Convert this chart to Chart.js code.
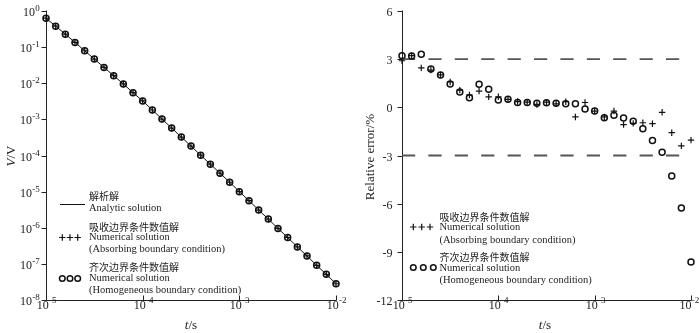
<!DOCTYPE html>
<html><head><meta charset="utf-8">
<script src="https://cdn.jsdelivr.net/npm/chart.js@4"></script>
<style>
html,body{margin:0;padding:0;background:#fff;width:700px;height:333px;overflow:hidden}
.box{position:absolute;top:0;width:350px;height:333px}
</style></head><body>
<div class="box" style="left:0"><canvas id="c1" width="350" height="333"></canvas></div>
<div class="box" style="left:350px"><canvas id="c2" width="350" height="333"></canvas></div>
<script>
// ---------- data ----------
const times = [1.000e-5,1.259e-5,1.585e-5,1.995e-5,2.512e-5,3.162e-5,3.981e-5,5.012e-5,6.310e-5,7.943e-5,
  1.000e-4,1.259e-4,1.585e-4,1.995e-4,2.512e-4,3.162e-4,3.981e-4,5.012e-4,6.310e-4,7.943e-4,
  1.000e-3,1.259e-3,1.585e-3,1.995e-3,2.512e-3,3.162e-3,3.981e-3,5.012e-3,6.310e-3,7.943e-3,1.000e-2];
const analyticV = [0.631,0.380,0.229,0.135,0.0794,0.0468,0.0275,0.0162,0.00955,0.00550,
  0.00324,0.00182,0.00102,5.75e-4,3.24e-4,1.82e-4,1.02e-4,5.75e-5,3.24e-5,1.82e-5,
  1.00e-5,5.62e-6,3.09e-6,1.74e-6,9.55e-7,5.37e-7,2.95e-7,1.66e-7,9.12e-8,5.13e-8,2.82e-8];
const absorbingV = [0.631,0.380,0.229,0.135,0.0794,0.0468,0.0275,0.0162,0.00955,0.00550,
  0.00324,0.00182,0.00102,5.75e-4,3.24e-4,1.82e-4,1.02e-4,5.75e-5,3.24e-5,1.82e-5,
  1.00e-5,5.62e-6,3.09e-6,1.74e-6,9.55e-7,5.37e-7,2.95e-7,1.66e-7,9.12e-8,5.13e-8,2.82e-8];
const homogeneousV = [0.631,0.380,0.229,0.135,0.0794,0.0468,0.0275,0.0162,0.00955,0.00550,
  0.00324,0.00182,0.00102,5.75e-4,3.24e-4,1.82e-4,1.02e-4,5.75e-5,3.24e-5,1.82e-5,
  1.00e-5,5.62e-6,3.09e-6,1.74e-6,9.55e-7,5.37e-7,2.95e-7,1.66e-7,9.12e-8,5.13e-8,2.82e-8];
const homogeneousErr = [3.21,3.19,3.31,2.38,2.02,1.45,0.95,0.60,1.44,1.13,
  0.46,0.50,0.30,0.30,0.25,0.28,0.25,0.22,0.23,-0.10,
  -0.23,-0.65,-0.49,-0.66,-0.87,-1.33,-2.06,-2.80,-4.27,-6.27,-9.63];
const absorbingErr = [2.90,3.22,2.46,2.32,2.02,1.58,1.07,0.77,1.01,0.65,
  0.66,0.50,0.36,0.32,0.18,0.32,0.22,0.35,-0.60,0.30,
  -0.23,-0.60,-0.23,-1.08,-1.00,-0.96,-1.02,-0.31,-1.58,-2.40,-2.04];
const errorLimits = [3,-3];
const xTickExps = [-5,-4,-3,-2];
const leftYTickExps = [0,-1,-2,-3,-4,-5,-6,-7,-8];
const rightYTicks = [6,3,0,-3,-6,-9,-12];

// ---------- helpers ----------
const SERIF = '"Liberation Serif","Times New Roman",serif';
const CJK = '"Noto Sans CJK SC",sans-serif';
const INK = '#222';
function pts(xs, ys){ return xs.map((x,i)=>({x:x,y:ys[i]})); }
function drawPow(ctx, x, y, exp, align){
  ctx.save();
  ctx.fillStyle = INK; ctx.textBaseline = 'middle'; ctx.textAlign = 'left';
  const base = '10', e = String(exp);
  ctx.font = '12px '+SERIF; const w1 = ctx.measureText(base).width;
  ctx.font = '9px '+SERIF; const w2 = ctx.measureText(e).width;
  const w = w1 + w2;
  let sx = align === 'right' ? x - w : x - w/2;
  sx = Math.min(sx, ctx.canvas.width - w - 1);
  ctx.font = '12px '+SERIF; ctx.fillText(base, sx, y + 1.5);
  ctx.font = '9px '+SERIF; ctx.fillText(e, sx + w1 + 0.3, y - 3);
  ctx.restore();
}
function text(ctx, s, x, y, font, align){
  ctx.save(); ctx.fillStyle = INK; ctx.font = font; ctx.textAlign = align || 'left';
  ctx.textBaseline = 'middle'; ctx.fillText(s, x, y); ctx.restore();
}
function plus(ctx, x, y, r){
  ctx.beginPath(); ctx.moveTo(x-r, y); ctx.lineTo(x+r, y); ctx.moveTo(x, y-r); ctx.lineTo(x, y+r);
  ctx.stroke();
}
function circ(ctx, x, y, r){ ctx.beginPath(); ctx.arc(x, y, r, 0, Math.PI*2); ctx.stroke(); }

function axesPlugin(opts){
  return {
    id: 'axesDraw'+opts.id,
    beforeDatasetsDraw(chart){
      const ctx = chart.ctx, a = chart.chartArea, xs = chart.scales.x, ys = chart.scales.y;
      ctx.save();
      ctx.strokeStyle = INK; ctx.lineWidth = 1;
      const L = Math.round(a.left)+0.5, B = Math.round(a.bottom)+0.5;
      ctx.beginPath(); ctx.moveTo(L, a.top-0.5); ctx.lineTo(L, B); ctx.lineTo(a.right+0.5, B); ctx.stroke();
      xTickExps.forEach(e=>{
        const px = Math.round(xs.getPixelForValue(Math.pow(10,e)))+0.5;
        ctx.beginPath(); ctx.moveTo(px, B); ctx.lineTo(px, B-5); ctx.stroke();
        drawPow(ctx, px, 304, e, 'center');
      });
      opts.yTicks.forEach(v=>{
        const py = Math.round(ys.getPixelForValue(opts.yLog ? Math.pow(10,v) : v))+0.5;
        ctx.beginPath(); ctx.moveTo(L-5, py); ctx.lineTo(L, py); ctx.stroke();
        if (opts.yLog) drawPow(ctx, L - opts.labelGap, py, v, 'right');
        else text(ctx, String(v), L - opts.labelGap, py+1, '12px '+SERIF, 'right');
      });
      ctx.restore();
    },
    afterDraw(chart){
      const ctx = chart.ctx;
      ctx.save();
      ctx.fillStyle = INK; ctx.textBaseline = 'middle';
      ctx.font = 'italic 13px '+SERIF; const wt = ctx.measureText('t').width;
      ctx.font = '13px '+SERIF; const ws = ctx.measureText('/s').width;
      let sx = opts.xTitleX - (wt+ws)/2;
      ctx.textAlign = 'left';
      ctx.font = 'italic 13px '+SERIF; ctx.fillText('t', sx, 326);
      ctx.font = '13px '+SERIF; ctx.fillText('/s', sx+wt, 326);
      ctx.translate(opts.yTitleX, opts.yTitleY); ctx.rotate(-Math.PI/2);
      if (opts.yLog){
        ctx.font = 'italic 13px '+SERIF; const wv = ctx.measureText('V').width;
        ctx.font = '13px '+SERIF; const wr = ctx.measureText('/V').width;
        const s0 = -(wv+wr)/2;
        ctx.font = 'italic 13px '+SERIF; ctx.fillText('V', s0, 0);
        ctx.font = '13px '+SERIF; ctx.fillText('/V', s0+wv, 0);
      } else {
        ctx.font = '13px '+SERIF; ctx.textAlign = 'center'; ctx.fillText('Relative error/%', 0, 0);
      }
      ctx.restore();
      ctx.save();
      ctx.strokeStyle = '#111'; ctx.fillStyle = INK;
      const f = '10.5px '+SERIF, fc = '10px '+CJK;
      opts.legend(ctx, f, fc);
      ctx.restore();
    }
  };
}

const baseOpts = (yCfg, yWidth, rightPad) => ({
  responsive:false, animation:false, devicePixelRatio:1,
  layout:{padding:{top:11,right:rightPad,left:0,bottom:0}},
  plugins:{legend:{display:false}, tooltip:{enabled:false}},
  scales:{
    x:Object.assign({type:'logarithmic', min:1e-5, max:1e-2, ticks:{display:false}, grid:{display:false}, border:{display:false}}, {afterFit(s){s.height=33;}}),
    y:Object.assign(yCfg, {ticks:{display:false}, grid:{display:false}, border:{display:false}, afterFit(s){s.width=yWidth;}})
  }
});

// ---------- left chart ----------
new Chart(document.getElementById('c1'), {
  type:'line',
  data:{datasets:[
    {label:'解析解', data:pts(times, analyticV), borderColor:'#111', borderWidth:1, pointRadius:0, clip:false, order:3},
    {label:'吸收边界条件数值解', data:pts(times, absorbingV), showLine:false, pointStyle:'cross', pointRadius:3.2, borderWidth:1.2, borderColor:'#111', clip:false, order:2},
    {label:'齐次边界条件数值解', data:pts(times, homogeneousV), showLine:false, pointStyle:'circle', pointRadius:3, borderWidth:1.5, borderColor:'#111', backgroundColor:'rgba(0,0,0,0)', clip:false, order:1}
  ]},
  options: baseOpts({type:'logarithmic', min:1e-8, max:1}, 46, 14),
  plugins:[axesPlugin({id:1, yLog:true, yTicks:leftYTickExps, labelGap:7, xTitleX:191, yTitleX:12, yTitleY:156,
    legend(ctx, f, fc){
      ctx.lineWidth = 1;
      ctx.beginPath(); ctx.moveTo(60, 204.5); ctx.lineTo(85, 204.5); ctx.stroke();
      text(ctx, '解析解', 89, 196, fc);
      text(ctx, 'Analytic solution', 89, 208.5, f);
      text(ctx, '吸收边界条件数值解', 89, 227, fc);
      ctx.lineWidth = 1.2; [62.3,70,77.7].forEach(x=>plus(ctx, x, 237.5, 3.2));
      text(ctx, 'Numerical solution', 89, 237.5, f);
      text(ctx, '(Absorbing boundary condition)', 89, 249.5, f);
      text(ctx, '齐次边界条件数值解', 89, 267.5, fc);
      ctx.lineWidth = 1.5; [62.3,70,77.7].forEach(x=>circ(ctx, x, 278.5, 2.8));
      text(ctx, 'Numerical solution', 89, 278.5, f);
      text(ctx, '(Homogeneous boundary condition)', 89, 290.5, f);
    }})]
});

// ---------- right chart ----------
new Chart(document.getElementById('c2'), {
  type:'line',
  data:{datasets:[
    {label:'+3%', data:pts([1e-5,1e-2],[errorLimits[0],errorLimits[0]]), borderColor:'#555', borderWidth:1.8, borderDash:[13.2,13.2], pointRadius:0, clip:false, order:4},
    {label:'-3%', data:pts([1e-5,1e-2],[errorLimits[1],errorLimits[1]]), borderColor:'#555', borderWidth:1.8, borderDash:[13.2,13.2], pointRadius:0, clip:false, order:3},
    {label:'吸收边界条件数值解', data:pts(times, absorbingErr), showLine:false, pointStyle:'cross', pointRadius:3.2, borderWidth:1.2, borderColor:'#111', clip:false, order:2},
    {label:'齐次边界条件数值解', data:pts(times, homogeneousErr), showLine:false, pointStyle:'circle', pointRadius:3, borderWidth:1.5, borderColor:'#111', backgroundColor:'rgba(0,0,0,0)', clip:false, order:1}
  ]},
  options: baseOpts({type:'linear', min:-12, max:6}, 52, 9),
  plugins:[axesPlugin({id:2, yLog:false, yTicks:rightYTicks, labelGap:10, xTitleX:195, yTitleX:21, yTitleY:157,
    legend(ctx, f, fc){
      text(ctx, '吸收边界条件数值解', 89.5, 217, fc);
      ctx.lineWidth = 1.2; [63.3,71.7,80].forEach(x=>plus(ctx, x, 227, 3.2));
      text(ctx, 'Numerical solution', 89.5, 227, f);
      text(ctx, '(Absorbing boundary condition)', 89.5, 240, f);
      text(ctx, '齐次边界条件数值解', 89.5, 257.5, fc);
      ctx.lineWidth = 1.5; [63.3,73.3,83.3].forEach(x=>circ(ctx, x, 267.5, 2.8));
      text(ctx, 'Numerical solution', 89.5, 268, f);
      text(ctx, '(Homogeneous boundary condition)', 89.5, 280.5, f);
    }})]
});
</script>
</body></html>
